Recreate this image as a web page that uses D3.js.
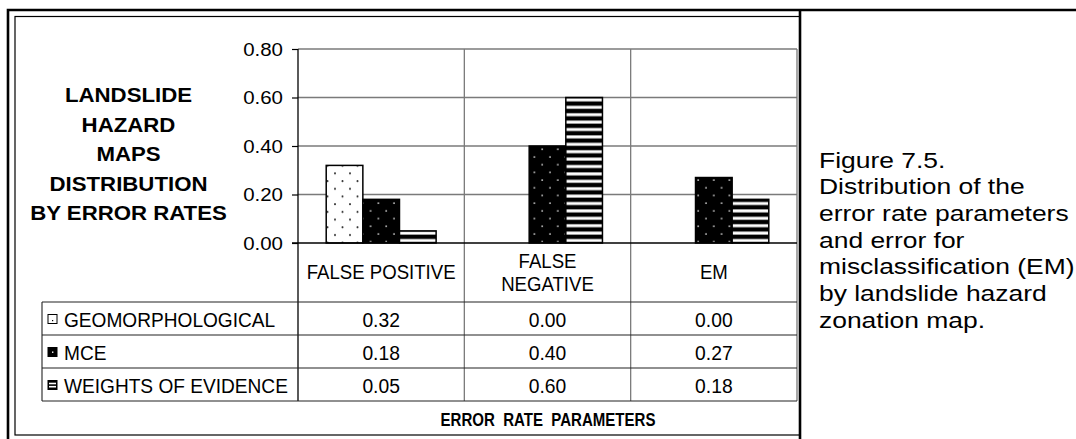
<!DOCTYPE html>
<html>
<head>
<meta charset="utf-8">
<script src="https://cdn.jsdelivr.net/npm/d3@7"></script>
<style>
  html, body { margin: 0; padding: 0; background: #fff; }
  svg { display: block; }
  text { font-family: "Liberation Sans", Arial, sans-serif; fill: #000; }
</style>
</head>
<body>
<svg id="chart" width="1076" height="439"></svg>
<script>
// Error-rate categories (x axis / table columns)
const categories = ["FALSE POSITIVE", "FALSE NEGATIVE", "EM"];
const categoryLines = [["FALSE POSITIVE"], ["FALSE", "NEGATIVE"], ["EM"]];

// Hazard map series
const seriesNames = ["GEOMORPHOLOGICAL", "MCE", "WEIGHTS OF EVIDENCE"];
const geomorphological = [0.32, 0.00, 0.00];
const mce = [0.18, 0.40, 0.27];
const weightsOfEvidence = [0.05, 0.60, 0.18];
const seriesValues = [geomorphological, mce, weightsOfEvidence];

// Y axis ticks
const yTicks = [0, 0.2, 0.4, 0.6, 0.8];

const titleLines = ["LANDSLIDE", "HAZARD", "MAPS", "DISTRIBUTION", "BY ERROR RATES"];
const axisTitle = "ERROR\u00a0\u00a0RATE\u00a0\u00a0PARAMETERS";
const captionLines = [
  "Figure 7.5.",
  "Distribution of the",
  "error rate parameters",
  "and error for",
  "misclassification (EM)",
  "by landslide hazard",
  "zonation map."
];

const svg = d3.select("#chart");
const defs = svg.append("defs");

// Fill patterns for the three series
const pGeo = defs.append("pattern").attr("id", "pat0")
  .attr("patternUnits", "userSpaceOnUse").attr("width", 15).attr("height", 15.4);
pGeo.append("rect").attr("width", 15).attr("height", 15.4).attr("fill", "#fff");
pGeo.append("circle").attr("cx", 5).attr("cy", 4).attr("r", 1).attr("fill", "#333");
pGeo.append("circle").attr("cx", 12.5).attr("cy", 11.7).attr("r", 1).attr("fill", "#333");

const pMce = defs.append("pattern").attr("id", "pat1")
  .attr("patternUnits", "userSpaceOnUse").attr("width", 15.6).attr("height", 15.4);
pMce.append("rect").attr("width", 15.6).attr("height", 15.4).attr("fill", "#000");
pMce.append("circle").attr("cx", 4).attr("cy", 3).attr("r", 0.9).attr("fill", "#ddd");
pMce.append("circle").attr("cx", 11.8).attr("cy", 10.7).attr("r", 0.9).attr("fill", "#ddd");

const pWoe = defs.append("pattern").attr("id", "pat2")
  .attr("patternUnits", "userSpaceOnUse").attr("width", 10).attr("height", 7.4);
pWoe.append("rect").attr("width", 10).attr("height", 7.4).attr("fill", "#000");
pWoe.append("rect").attr("y", 2.2).attr("width", 10).attr("height", 3).attr("fill", "#fff");

// Text helper: horizontally scaled text placed at (x, y)
function label(parent, x, y, str, o) {
  const g = parent.append("g")
    .attr("transform", `translate(${x},${y}) scale(${o.sx || 1},1)`);
  return g.append("text")
    .attr("text-anchor", o.anchor || "start")
    .attr("font-size", o.size)
    .attr("font-weight", o.weight || "normal")
    .text(str);
}

// Frame
svg.append("path").attr("d", "M8,439 V10 H1076 M800,10 V439")
  .attr("fill", "none").attr("stroke", "#000").attr("stroke-width", 2.6);
svg.append("rect").attr("x", 15).attr("y", 16.5).attr("width", 785).attr("height", 418.5)
  .attr("fill", "none").attr("stroke", "#000").attr("stroke-width", 1.2);

// Scales
const x = d3.scaleBand().domain(categories).range([298, 797]).padding(0);
const xs = d3.scaleBand().domain(seriesNames).range([0, x.bandwidth()])
  .paddingInner(0).paddingOuter(0.77);
const y = d3.scaleLinear().domain([0, 0.8]).range([243, 49]);

// Table geometry
const tableTop = 302, rowH = 33, tableLeft = 42;
const tableBottom = tableTop + rowH * seriesNames.length;

// Horizontal gridlines
svg.append("g").selectAll("line").data(yTicks.filter(d => d > 0)).join("line")
  .attr("x1", 298).attr("x2", 797)
  .attr("y1", d => y(d)).attr("y2", d => y(d))
  .attr("stroke", "#7a7a7a").attr("stroke-width", 1.3);

// Category dividers through plot and table header
const dividers = categories.map(c => x(c) + x.bandwidth());
svg.append("g").selectAll("line").data(dividers).join("line")
  .attr("x1", d => d).attr("x2", d => d)
  .attr("y1", y(0.8)).attr("y2", tableBottom)
  .attr("stroke", "#7a7a7a").attr("stroke-width", 1.3);

// Y axis
const yAxis = d3.axisLeft(y).tickValues(yTicks).tickSize(6).tickFormat(() => "");
const ya = svg.append("g").attr("transform", "translate(298,0)").call(yAxis);
ya.select(".domain").remove();
ya.selectAll(".tick line").attr("stroke", "#000").attr("stroke-width", 1.2);
yTicks.forEach(t => {
  label(svg, 283, y(t) + 6.8, d3.format(".2f")(t), { size: 18.6, sx: 1.1, anchor: "end" });
});
svg.append("line").attr("x1", 298).attr("x2", 298).attr("y1", y(0.8)).attr("y2", tableBottom)
  .attr("stroke", "#000").attr("stroke-width", 1.3);

// Bars
seriesNames.forEach((s, si) => {
  svg.append("g").selectAll("rect")
    .data(categories.map((c, ci) => ({ c, v: seriesValues[si][ci] })).filter(d => d.v > 0))
    .join("rect")
    .attr("x", d => x(d.c) + xs(s))
    .attr("y", d => y(d.v))
    .attr("width", xs.bandwidth())
    .attr("height", d => y(0) - y(d.v))
    .attr("fill", `url(#pat${si})`)
    .attr("stroke", "#000").attr("stroke-width", 1.5);
});

// Zero baseline
svg.append("line").attr("x1", 292).attr("x2", 797).attr("y1", y(0)).attr("y2", y(0))
  .attr("stroke", "#000").attr("stroke-width", 1.3);

// Data table lines
const tbl = svg.append("g");
d3.range(seriesNames.length + 1).forEach(i => {
  tbl.append("line").attr("x1", tableLeft).attr("x2", 797)
    .attr("y1", tableTop + i * rowH).attr("y2", tableTop + i * rowH)
    .attr("stroke", "#222").attr("stroke-width", 1.1);
});
tbl.append("line").attr("x1", tableLeft).attr("x2", tableLeft)
  .attr("y1", tableTop).attr("y2", tableBottom).attr("stroke", "#222").attr("stroke-width", 1.1);

// Column headers
categories.forEach((c, ci) => {
  const lines = categoryLines[ci];
  const cx = x(c) + x.bandwidth() / 2;
  const cy = 272;
  lines.forEach((ln, li) => {
    const yy = cy + (li - (lines.length - 1) / 2) * 23 + 7;
    label(svg, cx, yy, ln, { size: 20, sx: 0.93, anchor: "middle" });
  });
});

// Row labels with legend keys, and values
seriesNames.forEach((s, si) => {
  const cy = tableTop + si * rowH + rowH / 2 + 1;
  const key = svg.append("g").attr("transform", `translate(48,${cy - 5})`);
  key.append("rect").attr("width", 9).attr("height", 9)
    .attr("fill", si === 0 ? "#fff" : "#000").attr("stroke", "#000").attr("stroke-width", 1);
  if (si === 0) key.append("rect").attr("x", 4).attr("y", 5.5).attr("width", 1.2).attr("height", 1.2).attr("fill", "#000");
  if (si === 1) key.append("rect").attr("x", 4).attr("y", 4).attr("width", 1.4).attr("height", 1.4).attr("fill", "#fff");
  if (si === 2) {
    key.append("rect").attr("x", 1).attr("y", 2.2).attr("width", 7).attr("height", 1.6).attr("fill", "#fff");
    key.append("rect").attr("x", 1).attr("y", 5.4).attr("width", 7).attr("height", 1.6).attr("fill", "#fff");
  }
  label(svg, 64, cy + 7.5, s, { size: 21, sx: 0.91 });
  categories.forEach((c, ci) => {
    label(svg, x(c) + x.bandwidth() / 2, cy + 7.5, d3.format(".2f")(seriesValues[si][ci]),
      { size: 21, sx: 0.92, anchor: "middle" });
  });
});

// Left bold title
titleLines.forEach((t, i) => {
  label(svg, 128.5, 102 + i * 29.6, t, { size: 19.5, sx: 1.14, anchor: "middle", weight: "bold" });
});

// Axis title below the table
label(svg, 548, 425.5, axisTitle, { size: 17.7, sx: 0.85, anchor: "middle", weight: "bold" });

// Caption
captionLines.forEach((t, i) => {
  label(svg, 819, 167.5 + i * 26.7, t, { size: 21.5, sx: 1.23 });
});
</script>
</body>
</html>
